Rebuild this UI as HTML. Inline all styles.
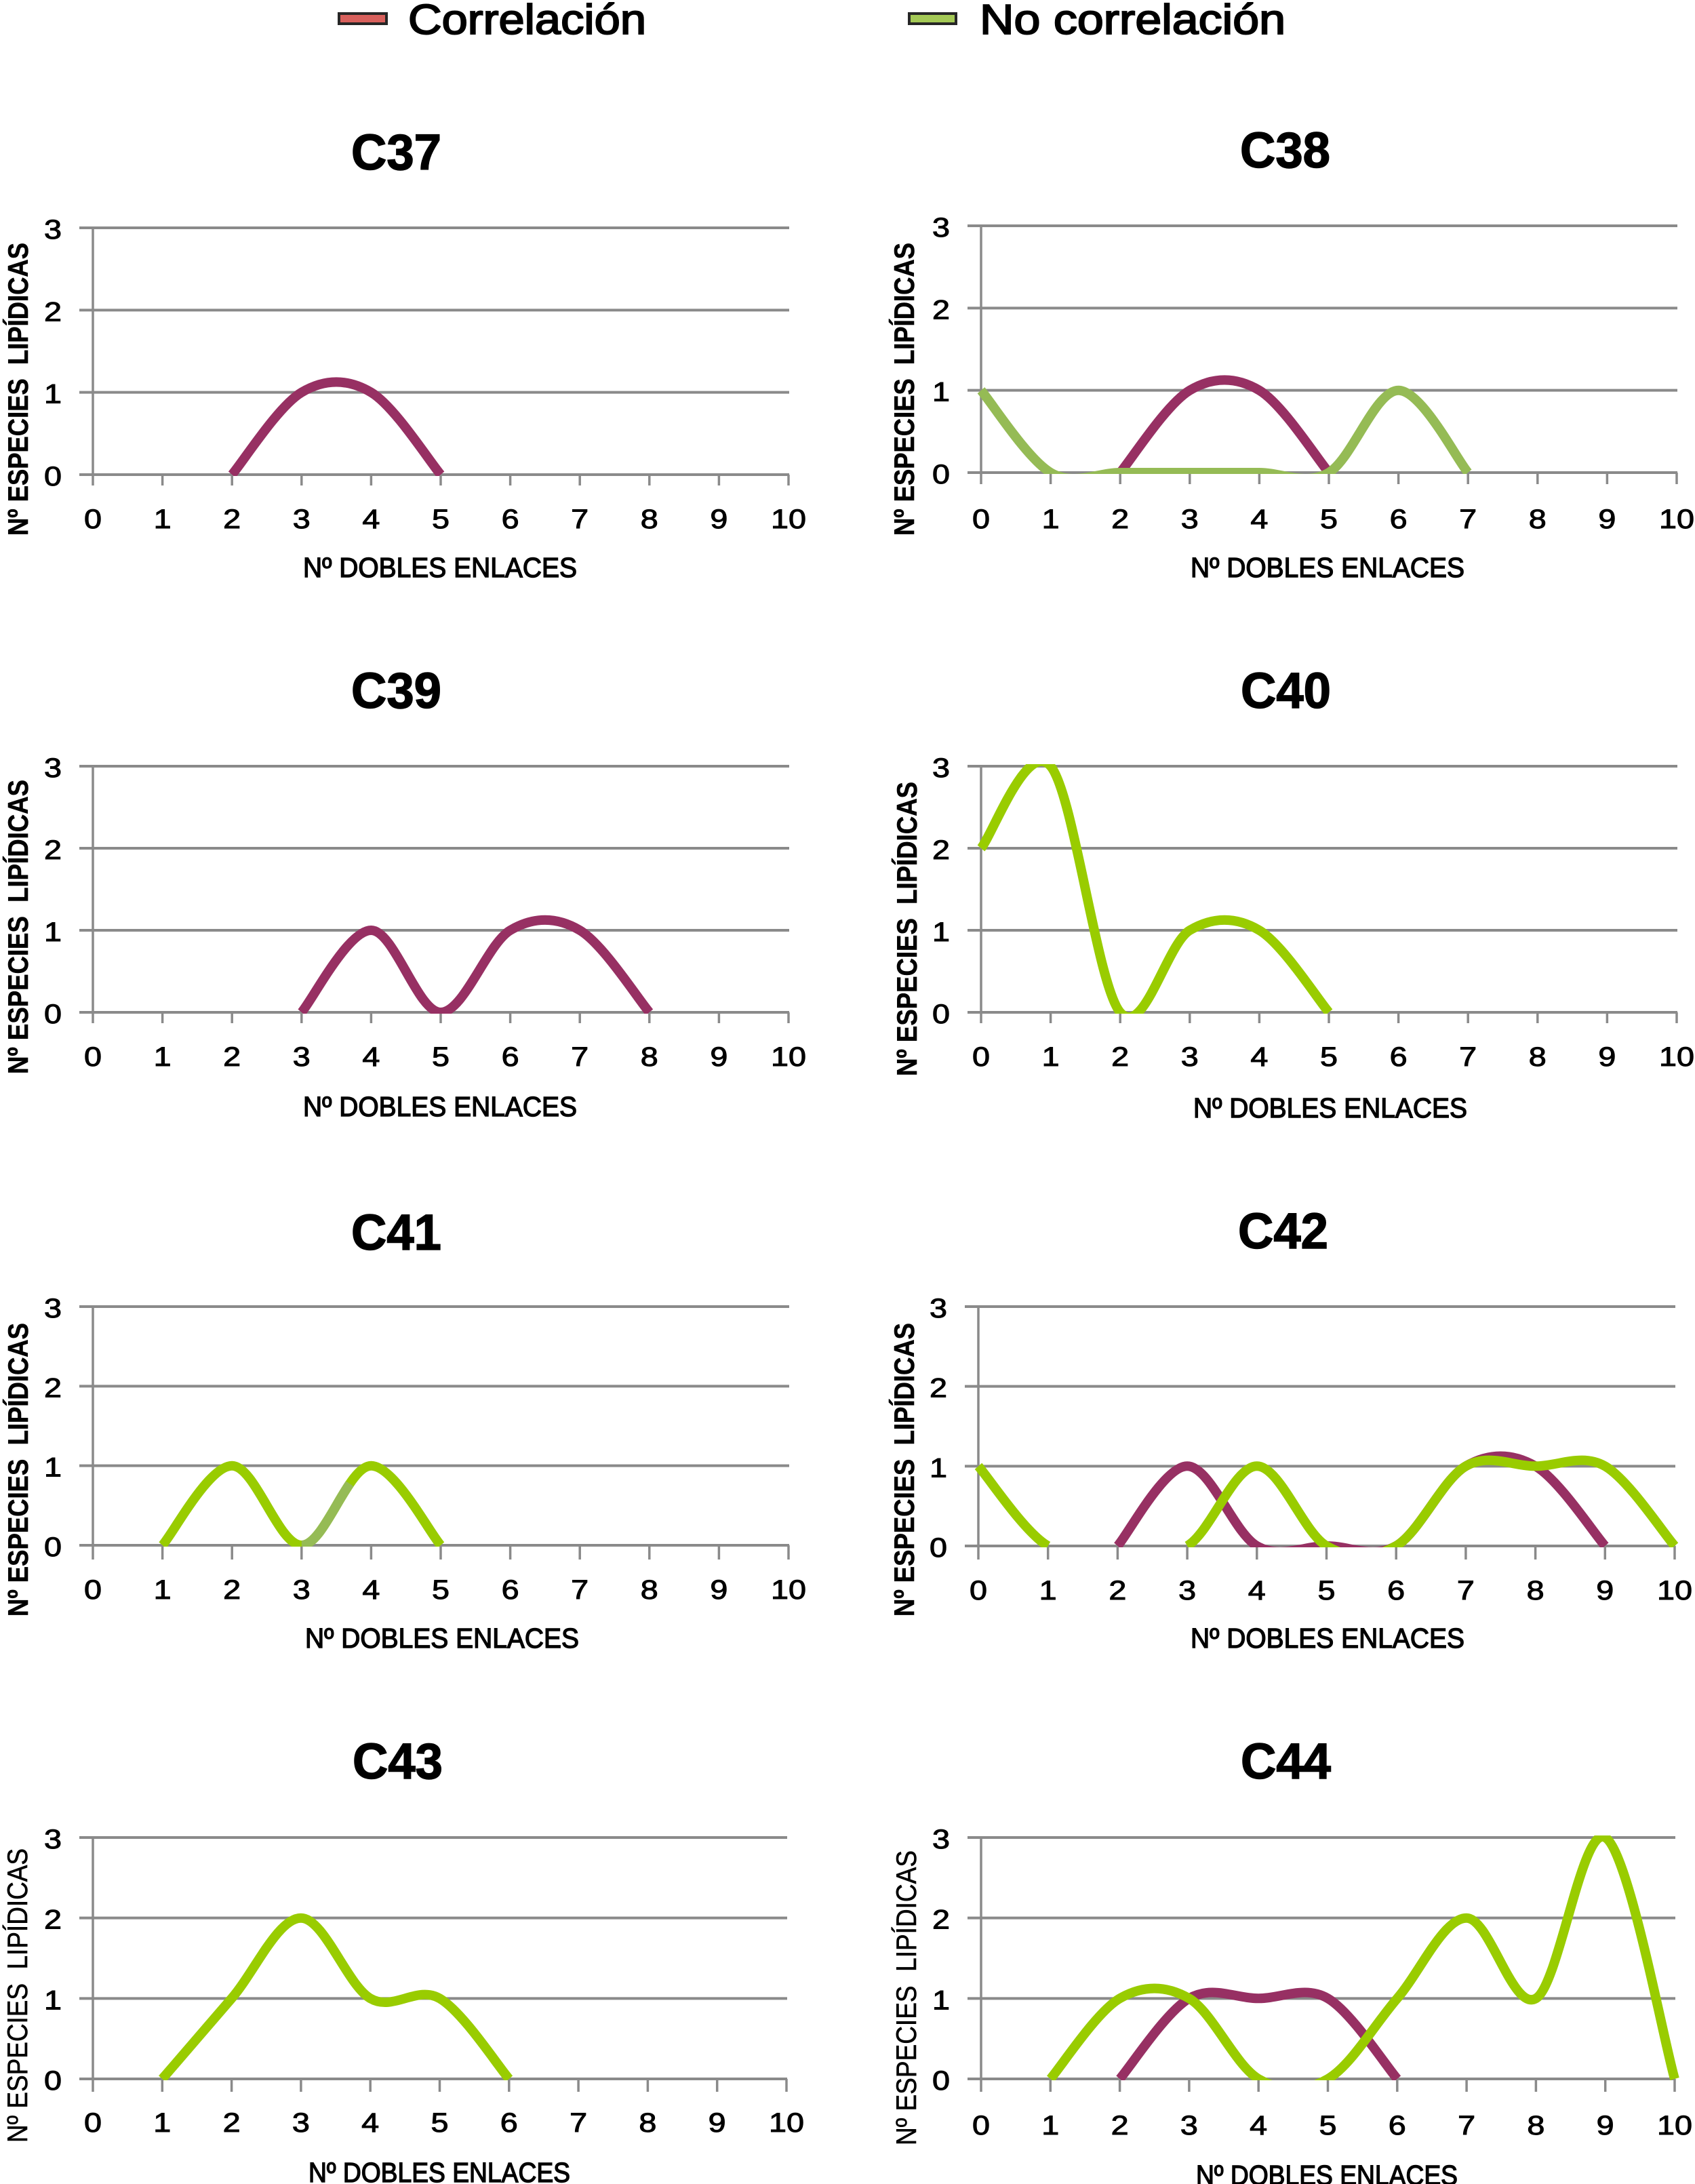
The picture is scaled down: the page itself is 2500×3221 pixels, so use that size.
<!DOCTYPE html>
<html lang="es">
<head>
<meta charset="utf-8">
<title>Nº especies lipídicas por dobles enlaces</title>
<style>
html,body{margin:0;padding:0;background:#fff;}
svg{display:block;}
text{font-family:"Liberation Sans",sans-serif;fill:#000;stroke:#000;stroke-width:1;white-space:pre;}
</style>
</head>
<body>
<svg id="figure" xmlns="http://www.w3.org/2000/svg" width="2500" height="3221" viewBox="0 0 2500 3221">
  <rect x="0" y="0" width="2500" height="3221" fill="#ffffff"/>
  <g>
    <rect x="500" y="20" width="70" height="15" fill="#d8605c" stroke="#262626" stroke-width="4"/>
    <text x="602" y="50" font-size="62" style="stroke-width:2" textLength="351" lengthAdjust="spacingAndGlyphs">Correlación</text>
    <rect x="1341" y="20" width="69" height="15" fill="#a4c956" stroke="#262626" stroke-width="4"/>
    <text x="1445" y="50" font-size="62" style="stroke-width:2" textLength="451" lengthAdjust="spacingAndGlyphs">No correlación</text>
  </g>
</svg>
<script>
// Axis tick values
const xCategories = [0, 1, 2, 3, 4, 5, 6, 7, 8, 9, 10];
const yTicks = [0, 1, 2, 3];

// Series values, one entry per x category (null = no point)
const c37Correlacion = [null, null, 0, 1, 1, 0, null, null, null, null, null];
const c38Correlacion = [null, null, 0, 1, 1, 0, null, null, null, null, null];
const c38NoCorrelacion = [1, 0, 0, 0, 0, 0, 1, 0, null, null, null];
const c39Correlacion = [null, null, null, 0, 1, 0, 1, 1, 0, null, null];
const c40NoCorrelacion = [2, 3, 0, 1, 1, 0, null, null, null, null, null];
const c41NoCorrelacion = [null, 0, 1, 0, 1, 0, null, null, null, null, null];
const c42Correlacion = [null, null, 0, 1, 0, 0, 0, 1, 1, 0, null];
const c42NoCorrelacion = [1, 0, 0, 0, 1, 0, 0, 1, 1, 1, 0];
const c43NoCorrelacion = [null, 0, 1, 2, 1, 1, 0, null, null, null, null];
const c44Correlacion = [null, null, 0, 1, 1, 1, 0, null, null, null, null];
const c44NoCorrelacion = [null, 0, 1, 1, 0, 0, 1, 2, 1, 3, 0];

const CORR = '#973063', NOCORR = '#99cc00', MUTED = '#95bb55';
const SVGNS = 'http://www.w3.org/2000/svg';
const root = document.getElementById('figure');

const panels = [
  {id:'C37', x0:137, x10:1163, top:336, bot:700, tick:716, tX:518, tB:250, lB:779, xtX:447, xtB:851, ytX:41, ytB:790, ytT:358, bold:true,
   series:[{v:c37Correlacion,c:CORR,n:'correlacion'}]},
  {id:'C38', x0:1447, x10:2473, top:333, bot:697, tick:714, tX:1829, tB:247, lB:779, xtX:1756, xtB:851, ytX:1348, ytB:790, ytT:358, bold:true,
   series:[{v:c38Correlacion,c:CORR,n:'correlacion'},{v:c38NoCorrelacion,c:MUTED,n:'no-correlacion'}]},
  {id:'C39', x0:137, x10:1163, top:1130, bot:1493, tick:1509, tX:518, tB:1044, lB:1572, xtX:447, xtB:1646, ytX:41, ytB:1584, ytT:1150, bold:true,
   series:[{v:c39Correlacion,c:CORR,n:'correlacion'}]},
  {id:'C40', x0:1447, x10:2473, top:1130, bot:1493, tick:1509, tX:1830, tB:1044, lB:1572, xtX:1760, xtB:1648, ytX:1352, ytB:1587, ytT:1153, bold:true,
   series:[{v:c40NoCorrelacion,c:NOCORR,n:'no-correlacion'}]},
  {id:'C41', x0:137, x10:1163, top:1927, bot:2279, tick:2300, tX:518, tB:1843, lB:2358, xtX:450, xtB:2430, ytX:41, ytB:2384, ytT:1951, bold:true,
   series:[{v:c41NoCorrelacion,c:NOCORR,n:'no-correlacion',muted:[3,4]}]},
  {id:'C42', x0:1443, x10:2470, top:1927, bot:2280, tick:2300, tX:1826, tB:1841, lB:2359, xtX:1756, xtB:2430, ytX:1348, ytB:2384, ytT:1951, bold:true,
   series:[{v:c42Correlacion,c:CORR,n:'correlacion'},{v:c42NoCorrelacion,c:NOCORR,n:'no-correlacion',skip:[1,3]}]},
  {id:'C43', x0:137, x10:1160, top:2710, bot:3066, tick:3085, tX:520, tB:2623, lB:3144, xtX:455, xtB:3218, xtW:386, ytX:40, ytB:3160, ytT:2726, bold:false,
   series:[{v:c43NoCorrelacion,c:NOCORR,n:'no-correlacion'}]},
  {id:'C44', x0:1447, x10:2470, top:2710, bot:3066, tick:3085, tX:1830, tB:2623, lB:3148, xtX:1764, xtB:3222, xtW:386, ytX:1351, ytB:3164, ytT:2729, bold:false,
   series:[{v:c44Correlacion,c:CORR,n:'correlacion'},{v:c44NoCorrelacion,c:NOCORR,n:'no-correlacion'}]}
];

function svgEl(tag, attrs, parent) {
  const e = document.createElementNS(SVGNS, tag);
  for (const k in attrs) e.setAttribute(k, attrs[k]);
  parent.appendChild(e);
  return e;
}

// Excel-like smooth line: Catmull-Rom segments, optionally limited to an x range or skipping one
function smoothPath(values, sx, sy, range, skip) {
  let d = '';
  let run = [];
  const flush = () => {
    for (let i = 0; i + 1 < run.length; i++) {
      const p0 = run[Math.max(i - 1, 0)], p1 = run[i], p2 = run[i + 1], p3 = run[Math.min(i + 2, run.length - 1)];
      if (range && (p1.c < range[0] || p2.c > range[1])) continue;
      if (skip && p1.c >= skip[0] && p2.c <= skip[1]) continue;
      const c1x = sx(p1.c) + (sx(p2.c) - sx(p0.c)) / 6, c1y = sy(p1.v) + (sy(p2.v) - sy(p0.v)) / 6;
      const c2x = sx(p2.c) - (sx(p3.c) - sx(p1.c)) / 6, c2y = sy(p2.v) - (sy(p3.v) - sy(p1.v)) / 6;
      d += 'M' + sx(p1.c).toFixed(1) + ' ' + sy(p1.v).toFixed(1) +
           'C' + c1x.toFixed(1) + ' ' + c1y.toFixed(1) + ' ' + c2x.toFixed(1) + ' ' + c2y.toFixed(1) + ' ' + sx(p2.c).toFixed(1) + ' ' + sy(p2.v).toFixed(1);
    }
    run = [];
  };
  values.forEach((v, i) => {
    if (v === null) flush();
    else run.push({c: xCategories[i], v: v});
  });
  flush();
  return d;
}

panels.forEach(p => {
  const key = p.id.toLowerCase();
  const sx = c => p.x0 + (p.x10 - p.x0) * c / 10;
  const sy = v => p.bot - (p.bot - p.top) * v / 3;

  const g = svgEl('g', {}, root);
  
  

  const title = svgEl('text', {x:p.tX, y:p.tB, 'font-size':74, 'font-weight':'bold', style:'stroke-width:1.5', textLength:133, lengthAdjust:'spacingAndGlyphs'}, g);
  title.textContent = p.id;
  
  

  yTicks.forEach(t => {
    const line = svgEl('line', {x1:p.x0 - 20, x2:p.x10 + 1, y1:sy(t), y2:sy(t), stroke:'#8a8a8a', 'stroke-width':4}, g);
    
    

    const label = svgEl('text', {x:p.x0 - 59, y:sy(t) + 16, 'font-size':40, 'text-anchor':'middle', textLength:26, lengthAdjust:'spacingAndGlyphs'}, g);
    label.textContent = t;
    
    
  });

  const axis = svgEl('line', {x1:p.x0, x2:p.x0, y1:p.top, y2:p.bot, stroke:'#8a8a8a', 'stroke-width':3.5}, g);
  
  

  xCategories.forEach(c => {
    const tick = svgEl('line', {x1:sx(c), x2:sx(c), y1:p.bot, y2:p.tick, stroke:'#8a8a8a', 'stroke-width':3.5}, g);
    
    

    const w = String(c).length * 26;
    const label = svgEl('text', {x:sx(c), y:p.lB, 'font-size':40, 'text-anchor':'middle', textLength:w, lengthAdjust:'spacingAndGlyphs'}, g);
    label.textContent = c;
    
    
  });

  const clip = svgEl('clipPath', {id:'clip-' + key}, g);
  svgEl('rect', {x:p.x0 - 8, y:p.top - 3, width:p.x10 - p.x0 + 16, height:p.bot - p.top + 5}, clip);

  p.series.forEach(s => {
    const line = svgEl('path', {d:smoothPath(s.v, sx, sy, null, s.skip), fill:'none', stroke:s.c, 'stroke-width':14, 'clip-path':'url(#clip-' + key + ')'}, g);
    
    
    if (s.muted) {
      const seg = svgEl('path', {d:smoothPath(s.v, sx, sy, s.muted), fill:'none', stroke:MUTED, 'stroke-width':14, 'stroke-dasharray':'118 400', 'clip-path':'url(#clip-' + key + ')'}, g);
      
      
    }
  });

  const xt = svgEl('text', {x:p.xtX, y:p.xtB, 'font-size':41, style:'stroke-width:1.4', textLength:p.xtW || 404, lengthAdjust:'spacingAndGlyphs'}, g);
  xt.textContent = 'Nº DOBLES ENLACES';
  
  

  const yt = svgEl('text', {transform:'translate(' + p.ytX + ' ' + p.ytB + ') rotate(-90)', x:0, y:0, 'font-size':42, 'font-weight':p.bold ? 'bold' : 'normal', style:'stroke-width:0.6', textLength:p.ytB - p.ytT, lengthAdjust:'spacingAndGlyphs'}, g);
  yt.textContent = 'Nº ESPECIES  LIPÍDICAS';
  
  
});
</script>
</body>
</html>
